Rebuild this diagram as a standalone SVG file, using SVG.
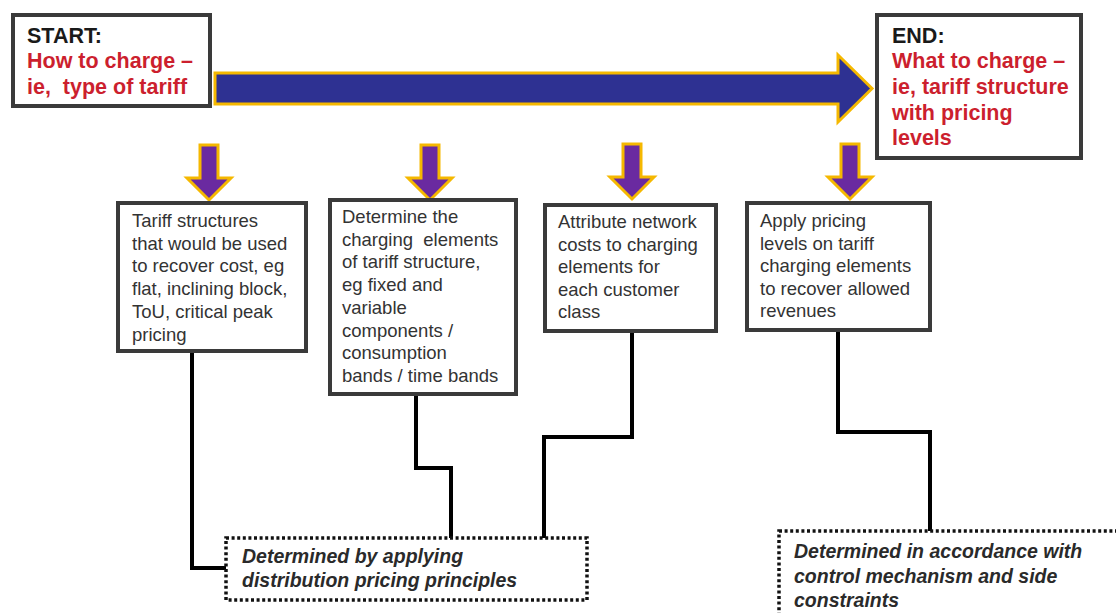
<svg xmlns="http://www.w3.org/2000/svg" width="1116" height="613" viewBox="0 0 1116 613">
<style>
text{white-space:pre}
.box{fill:#fff;stroke:#3a3a3a;stroke-width:4}
.dot{fill:#fff;stroke:#111;stroke-width:3.5;stroke-dasharray:3 2.6}
.t{font-family:"Liberation Sans",Arial,sans-serif;font-size:18.5px;fill:#333}
.h{font-family:"Liberation Sans",Arial,sans-serif;font-size:21.5px;font-weight:bold;fill:#1a1a1a}
.r{fill:#cc1f2e}
.i{font-family:"Liberation Sans",Arial,sans-serif;font-size:19.5px;font-weight:bold;font-style:italic;fill:#2a2a2a}
.con{fill:none;stroke:#000;stroke-width:4}
.da{fill:#6a2aa0;stroke:#f5b800;stroke-width:3;stroke-linejoin:miter}
</style>
<defs>
<path id="down" d="M-9,0 L9,0 L9,33 L22,33 L0,55 L-22,33 L-9,33 Z"/>
</defs>
<rect width="1116" height="613" fill="#fff"/>

<g id="connectors">
<path class="con" d="M192,353 V568 H226"/>
<path class="con" d="M416,396 V468 H451 V538"/>
<path class="con" d="M632,333 V437 H544 V538"/>
<path class="con" d="M838,332 V432 H930 V531"/>
</g>

<g id="main-arrow">
<path d="M215,73 L838,73 L838,55 L872,88.5 L838,122 L838,104 L215,104 Z" fill="#2e3192" stroke="#f5b800" stroke-width="3"/>
</g>

<g id="start">
<rect class="box" x="13" y="15" width="197" height="91"/>
<text class="h" x="27" y="43">START:</text>
<text class="h r" x="27" y="68">How to charge –</text>
<text class="h r" x="27" y="94" xml:space="preserve">ie,  type of tariff</text>
</g>

<g id="end">
<rect class="box" x="877" y="15" width="204" height="143"/>
<text class="h" x="892" y="43">END:</text>
<text class="h r" x="892" y="68">What to charge –</text>
<text class="h r" x="892" y="94">ie, tariff structure</text>
<text class="h r" x="892" y="120">with pricing</text>
<text class="h r" x="892" y="145">levels</text>
</g>

<g id="down-arrows">
<use href="#down" class="da" transform="translate(209,145)"/>
<use href="#down" class="da" transform="translate(430,145)"/>
<use href="#down" class="da" transform="translate(632,144)"/>
<use href="#down" class="da" transform="translate(850,144)"/>
</g>

<g id="box1">
<rect class="box" x="118" y="203" width="188" height="148"/>
<text class="t" x="132" y="227">Tariff structures</text>
<text class="t" x="132" y="249.7">that would be used</text>
<text class="t" x="132" y="272.4">to recover cost, eg</text>
<text class="t" x="132" y="295.1">flat, inclining block,</text>
<text class="t" x="132" y="317.8">ToU, critical peak</text>
<text class="t" x="132" y="340.5">pricing</text>
</g>

<g id="box2">
<rect class="box" x="330" y="200" width="186" height="194"/>
<text class="t" x="342" y="223">Determine the</text>
<text class="t" x="342" y="245.7" xml:space="preserve">charging  elements</text>
<text class="t" x="342" y="268.4">of tariff structure,</text>
<text class="t" x="342" y="291.1">eg fixed and</text>
<text class="t" x="342" y="313.8">variable</text>
<text class="t" x="342" y="336.5">components /</text>
<text class="t" x="342" y="359.2">consumption</text>
<text class="t" x="342" y="381.9">bands / time bands</text>
</g>

<g id="box3">
<rect class="box" x="545" y="205" width="171" height="126"/>
<text class="t" x="558" y="228">Attribute network</text>
<text class="t" x="558" y="250.6">costs to charging</text>
<text class="t" x="558" y="273.2">elements for</text>
<text class="t" x="558" y="295.8">each customer</text>
<text class="t" x="558" y="318.4">class</text>
</g>

<g id="box4">
<rect class="box" x="747" y="203" width="183" height="127"/>
<text class="t" x="760" y="227">Apply pricing</text>
<text class="t" x="760" y="249.6">levels on tariff</text>
<text class="t" x="760" y="272.2">charging elements</text>
<text class="t" x="760" y="294.8">to recover allowed</text>
<text class="t" x="760" y="317.4">revenues</text>
</g>

<g id="note1">
<rect class="dot" x="226" y="538" width="361" height="62"/>
<text class="i" x="242" y="563">Determined by applying</text>
<text class="i" x="242" y="587">distribution pricing principles</text>
</g>

<g id="note2">
<rect class="dot" x="779" y="531" width="400" height="110"/>
<text class="i" x="794" y="558">Determined in accordance with</text>
<text class="i" x="794" y="583">control mechanism and side</text>
<text class="i" x="794" y="607">constraints</text>
</g>
</svg>
